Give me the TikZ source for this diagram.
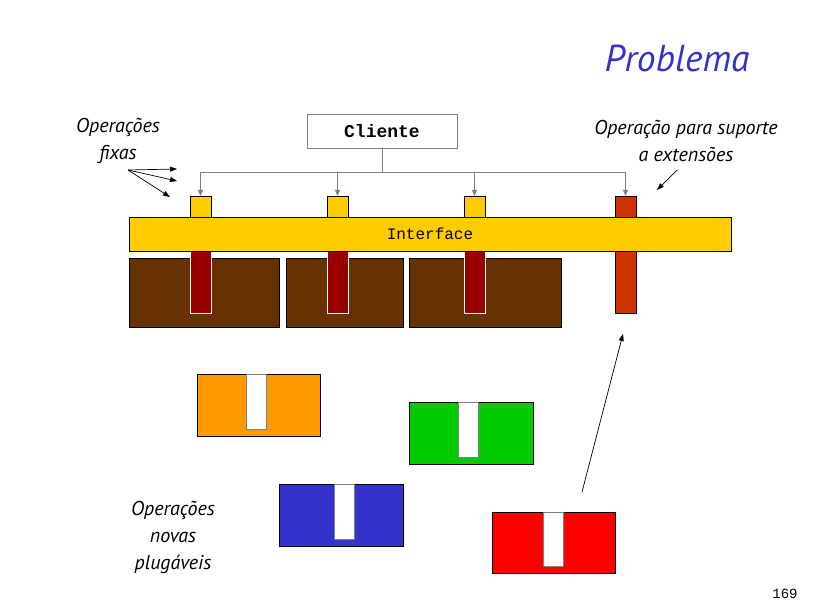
\documentclass[tikz,border=0pt]{standalone}
\usepackage{fontspec}
\setmainfont{PT Sans}
\setmonofont{Liberation Mono}
\usetikzlibrary{arrows.meta}
\definecolor{ifyellow}{HTML}{FFCC00}
\definecolor{stemred}{HTML}{990000}
\definecolor{extred}{HTML}{CC3300}
\definecolor{opbrown}{HTML}{663300}
\definecolor{plugorange}{HTML}{FF9900}
\definecolor{pluggreen}{HTML}{00CC00}
\definecolor{plugblue}{HTML}{3333CC}
\definecolor{plugred}{HTML}{FF0000}
\definecolor{titleblue}{HTML}{3333CC}
\tikzset{
    box/.style={draw=black, line width=0.9pt, inner sep=0pt, outer sep=0pt, anchor=north west},
    optab/.style={box, fill=ifyellow, minimum width=21, minimum height=21},
    opstem/.style={box, draw=white, fill=stemred, minimum width=21, minimum height=62},
    opbox/.style={box, fill=opbrown, minimum height=69},
    plugbox/.style={box, minimum width=123, minimum height=62},
    plugslot/.style={box, draw=gray, fill=white, minimum width=20, minimum height=55},
    caption/.style={align=center, font=\itshape\fontsize{20}{27}\selectfont},
    link/.style={draw=gray, line width=0.9pt, -{Triangle[length=6pt,width=5pt]}},
    pointer/.style={black, line width=0.7pt, -{Triangle[length=7pt,width=5pt]}}
}
\begin{document}
\begin{tikzpicture}[x=1pt, y=-1pt]
    \useasboundingbox (0,0) rectangle (819,612);

    % title
    \node[font=\itshape\fontsize{37.5}{40}\selectfont, text=titleblue] (title) at (677,58) {Problema};

    % fixed operations
    \node[opbox, minimum width=150] (op1) at (129,258) {};
    \node[opbox, minimum width=117] (op2) at (286,258) {};
    \node[opbox, minimum width=152] (op3) at (409,258) {};
    \node[opstem] (s1) at (190,251) {};
    \node[opstem] (s2) at (327,251) {};
    \node[opstem] (s3) at (464,251) {};
    \node[opstem, draw=black, fill=extred] (s4) at (615,251) {};

    % interface
    \node[optab] (t1) at (190,196) {};
    \node[optab] (t2) at (327,196) {};
    \node[optab] (t3) at (464,196) {};
    \node[optab, fill=extred] (t4) at (615,196) {};
    \node[box, fill=ifyellow, minimum width=602, minimum height=34] (iface) at (129,217) {};
    \node[font=\ttfamily\fontsize{16}{16}\selectfont] at (iface.center) {Interface};

    % client
    \node[box, draw=gray, fill=white, minimum width=150, minimum height=34,
          font=\ttfamily\bfseries\fontsize{18}{18}\selectfont] (cli) at (307,114) {Cliente};
    \coordinate (bus) at (382,172);
    \draw[gray, line width=0.9pt] (cli.south) -- (bus);
    \draw[link] (bus) -| (t1.north);
    \draw[link] (bus) -| (t2.north);
    \draw[link] (bus) -| (t3.north);
    \draw[link] (bus) -| (t4.north);

    % new pluggable operations
    \node[plugbox, fill=plugorange] (p1) at (197,374) {};
    \node[plugslot] (q1) at (246,374) {};
    \node[plugbox, fill=pluggreen, minimum width=124] (p2) at (409,402) {};
    \node[plugslot] (q2) at (458,402) {};
    \node[plugbox, fill=plugblue, minimum width=124] (p3) at (279,484) {};
    \node[plugslot] (q3) at (334,484) {};
    \node[plugbox, fill=plugred, minimum height=61] (p4) at (492,512) {};
    \node[plugslot, minimum height=54] (q4) at (543,512) {};

    % captions
    \node[caption] (fixas) at (118,141) {Operações\\fixas};
    \node[caption] (ext) at (686,141) {Operação para suporte\\a extensões};
    \node[caption] (novas) at (173,537) {Operações\\novas\\plugáveis};
    \node[font=\ttfamily\fontsize{14}{14}\selectfont] (pagenum) at (785,594) {169};

    % pointers
    \coordinate (fx) at (128,170);
    \coordinate (fa) at (177,169);
    \coordinate (fb) at (177,181);
    \coordinate (fc) at (170,197);
    \draw[pointer] (fx) -- (fa);
    \draw[pointer] (fx) -- (fb);
    \draw[pointer] (fx) -- (fc);
    \coordinate (ea) at (677,170);
    \coordinate (eb) at (657,190);
    \draw[pointer] (ea) -- (eb);
    \coordinate (pa) at (582,492);
    \coordinate (pb) at (623,334);
    \draw[pointer] (pa) -- (pb);
\end{tikzpicture}
\end{document}
